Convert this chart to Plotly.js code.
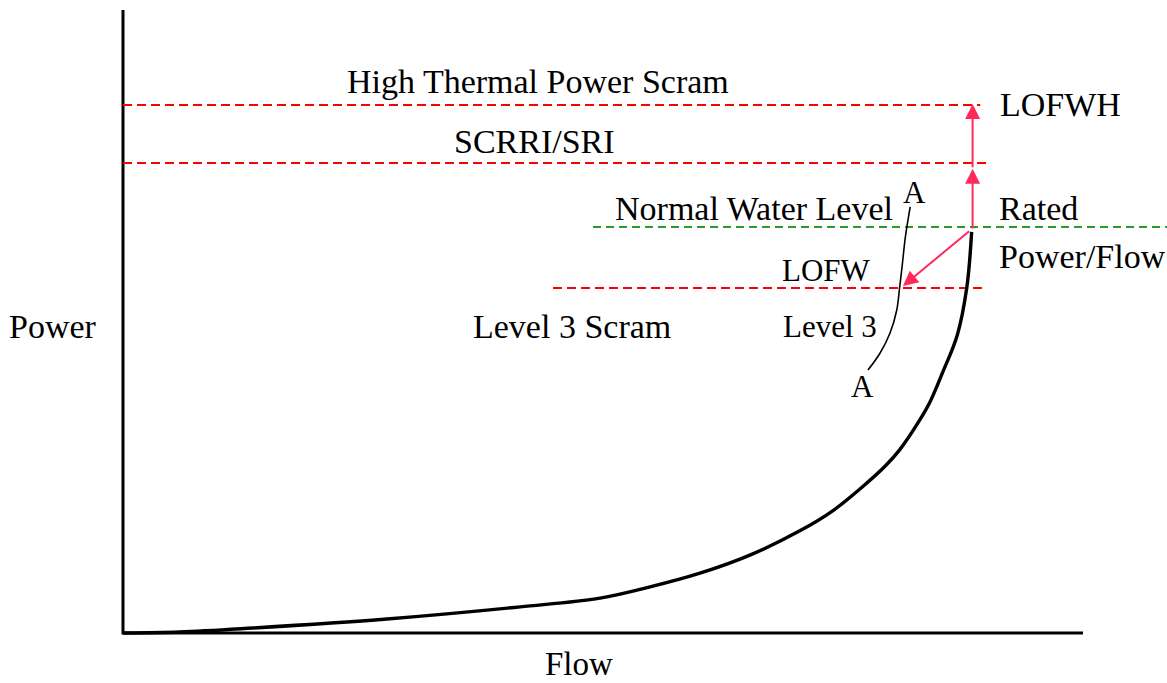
<!DOCTYPE html>
<html>
<head>
<meta charset="utf-8">
<script src="https://cdn.plot.ly/plotly-3.0.1.min.js"></script>
<style>html,body{margin:0;padding:0;background:#fff;}#chart{width:1167px;height:683px;}</style>
</head>
<body>
<div id="chart"></div>
<script>
// ---- Data (normalised units: Flow 0-100, Power 0-100) ----
// Rated power/flow characteristic curve
var curveFlow  = [0, 5.9, 13.5, 27.5, 41.4, 49.7, 54.9, 60.1, 65.3, 70.5, 74.0, 77.5, 79.4, 80.9, 83.0, 84.1, 85.4, 86.9, 87.9, 88.4];
var curvePower = [0, 0.16, 0.8, 2.25, 4.2, 5.6, 7.4, 9.6, 12.5, 16.4, 19.7, 24.1, 26.8, 29.4, 34.2, 37.2, 41.9, 47.8, 55.5, 64.4];

// A–A section line
var aaFlow  = [82.0, 81.5, 81.15, 80.9, 80.6, 79.9, 78.85, 77.6];
var aaPower = [68.4, 63.6, 58.75, 55.5, 51.85, 48.15, 44.9, 42.2];

// Trip / reference levels
var levelNames  = ["High Thermal Power Scram", "SCRRI/SRI", "Normal Water Level", "Level 3 Scram"];
var levelPower  = [84.75, 75.44, 65.17, 55.38];
var levelStart  = [0, 0, 48.96, 44.79];
var levelEnd    = [89.3, 90.0, 108.75, 89.6];
var levelColor  = ["#ff0000", "#ff0000", "#2a9a2a", "#ff0000"];

// Transition arrows: [fromFlow, fromPower] -> [toFlow, toPower]
var arrowFrom = [[88.5, 64.7], [88.5, 74.5], [88.3, 64.7]];
var arrowTo   = [[88.5, 74.5], [88.5, 84.9], [81.25, 55.7]];

// Axis extents
var flowMax = 100, powerMax = 100;

var serif = "Liberation Serif, Times New Roman, serif";
var traces = [];

// axes drawn as L-shaped frame
traces.push({x: [0, 0, flowMax], y: [powerMax, 0, 0], mode: "lines",
  line: {color: "#000", width: 3}, hoverinfo: "skip", showlegend: false});

for (var i = 0; i < levelNames.length; i++) {
  traces.push({x: [levelStart[i], levelEnd[i]], y: [levelPower[i], levelPower[i]],
    mode: "lines", name: levelNames[i],
    line: {color: levelColor[i], width: 2, dash: i === 2 ? "8px,5px" : "9px,5px"},
    hoverinfo: "skip", showlegend: false});
}

traces.push({x: aaFlow, y: aaPower, mode: "lines",
  line: {color: "#000", width: 1.6, shape: "spline", smoothing: 1},
  hoverinfo: "skip", showlegend: false});

traces.push({x: curveFlow, y: curvePower, mode: "lines",
  line: {color: "#000", width: 3.4, shape: "spline", smoothing: 1},
  hoverinfo: "skip", showlegend: false});

var arrowColor = "#ff2a5a";
var annotations = [];
for (var j = 0; j < arrowFrom.length; j++) {
  annotations.push({x: arrowTo[j][0], y: arrowTo[j][1], ax: arrowFrom[j][0], ay: arrowFrom[j][1],
    xref: "x", yref: "y", axref: "x", ayref: "y", text: "", showarrow: true,
    arrowhead: 2, arrowsize: 1.5, arrowwidth: 2, arrowcolor: arrowColor, standoff: 0, startstandoff: 0});
}

// text labels: [text, x, y, xanchor, size]
var labels = [
  ["High Thermal Power Scram", 43.28, 88.52, "center", 34],
  ["SCRRI/SRI", 42.86, 78.89, "center", 34],
  ["Normal Water Level", 65.78, 68.06, "center", 34],
  ["LOFWH", 91.15, 84.91, "left", 34],
  ["Rated", 91.04, 68.14, "left", 34],
  ["Power/Flow", 91.04, 60.51, "left", 34],
  ["LOFW", 73.28, 58.11, "center", 31],
  ["Level 3 Scram", 46.82, 49.2, "center", 34],
  ["Level 3", 73.65, 49.2, "center", 31],
  ["A", 82.4, 70.71, "center", 31],
  ["A", 76.98, 39.49, "center", 31],
  ["Power", -7.34, 49.2, "center", 34],
  ["Flow", 47.55, -5.0, "center", 33]
];
labels.forEach(function (l) {
  annotations.push({text: l[0], x: l[1], y: l[2], xref: "x", yref: "y",
    xanchor: l[3], yanchor: "middle", showarrow: false,
    font: {family: serif, size: l[4], color: "#000"}});
});

var layout = {
  width: 1167, height: 683,
  margin: {l: 0, r: 0, t: 0, b: 0, pad: 0},
  paper_bgcolor: "#fff", plot_bgcolor: "#fff",
  showlegend: false,
  xaxis: {range: [-12.8125, 108.75], visible: false, fixedrange: true},
  yaxis: {range: [-8.026, 101.605], visible: false, fixedrange: true},
  annotations: annotations
};

Plotly.newPlot("chart", traces, layout, {staticPlot: true, displayModeBar: false});
</script>
</body>
</html>
